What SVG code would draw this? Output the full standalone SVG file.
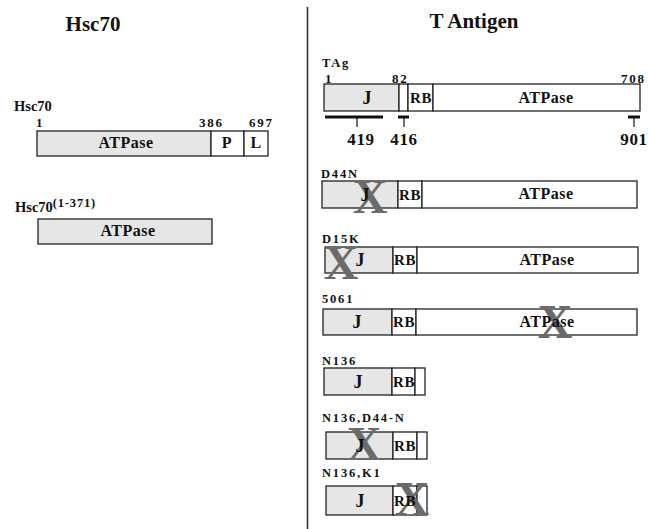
<svg xmlns="http://www.w3.org/2000/svg" width="648" height="529" viewBox="0 0 648 529">
  <style>
    text { font-family: "Liberation Serif", "Times New Roman", serif; font-weight: bold; fill: #111; }
    .title { font-size: 21px; text-anchor: middle; }
    .name { font-size: 14.5px; }
    .tag { font-size: 12.5px; letter-spacing: 1.8px; }
    .num { font-size: 13px; letter-spacing: 1.8px; }
    .pos { font-size: 17px; text-anchor: middle; letter-spacing: 0.6px; }
    .dom { font-size: 16px; text-anchor: middle; letter-spacing: 0.5px; }
    .j { font-size: 18px; text-anchor: middle; }
    .rb { font-size: 15px; text-anchor: middle; letter-spacing: 0.6px; }
    .grey { fill: #e6e6e6; stroke: #222; stroke-width: 1.3; }
    .white { fill: #fff; stroke: #222; stroke-width: 1.3; }
    .mark { font-size: 48px; fill: #6b6b6b; text-anchor: middle; }
    .bar { stroke: #111; stroke-width: 3; }
    .tick { stroke: #111; stroke-width: 1.2; }
  </style>

  <!-- panel divider -->
  <g id="divider">
    <line x1="307.5" y1="7" x2="307.5" y2="529" stroke="#333" stroke-width="1.6"/>
  </g>

  <!-- left panel -->
  <text class="title" x="93" y="31">Hsc70</text>

  <g id="hsc70">
    <text class="name" x="14" y="111">Hsc70</text>
    <text class="num" x="36" y="127">1</text>
    <text class="num" x="199" y="127">386</text>
    <text class="num" x="249" y="127">697</text>
    <rect class="grey" x="37" y="131" width="174" height="25"/>
    <rect class="white" x="211" y="131" width="33" height="25"/>
    <rect class="white" x="244" y="131" width="24" height="25"/>
    <text class="dom" x="126" y="148">ATPase</text>
    <text class="dom" x="227" y="148">P</text>
    <text class="dom" x="256" y="148">L</text>
  </g>

  <g id="hsc70-1-371">
    <text class="name" x="15" y="212">Hsc70<tspan font-size="12.5" letter-spacing="0.8" dy="-5">(1-371)</tspan></text>
    <rect class="grey" x="38" y="219" width="174" height="25"/>
    <text class="dom" x="128" y="236">ATPase</text>
  </g>

  <!-- right panel -->
  <text class="title" x="474" y="28">T Antigen</text>

  <g id="tag">
    <text class="tag" x="322" y="67">TAg</text>
    <text class="num" x="325" y="83">1</text>
    <text class="num" x="392" y="83">82</text>
    <text class="num" x="621" y="83">708</text>
    <rect class="grey" x="324" y="84" width="75" height="27"/>
    <rect class="white" x="399" y="84" width="9" height="27"/>
    <rect class="white" x="408" y="84" width="25" height="27"/>
    <rect class="white" x="433" y="84" width="207" height="27"/>
    <text class="j" x="367" y="104">J</text>
    <text class="rb" x="421" y="103">RB</text>
    <text class="dom" x="546" y="103">ATPase</text>
    <line class="bar" x1="325" y1="117" x2="383" y2="117"/>
    <line class="tick" x1="357" y1="117" x2="357" y2="127"/>
    <text class="pos" x="361" y="145">419</text>
    <line class="bar" x1="398" y1="117" x2="409" y2="117" stroke-width="2.5"/>
    <line class="tick" x1="404" y1="117" x2="404" y2="127"/>
    <text class="pos" x="404" y="145">416</text>
    <line class="bar" x1="628" y1="117" x2="640" y2="117" stroke-width="2.5"/>
    <line class="tick" x1="634" y1="117" x2="634" y2="127"/>
    <text class="pos" x="634" y="145">901</text>
  </g>

  <g id="d44n">
    <text class="tag" x="321" y="178">D44N</text>
    <rect class="grey" x="322" y="181" width="76" height="27"/>
    <rect class="white" x="398" y="181" width="24" height="27"/>
    <rect class="white" x="422" y="181" width="215" height="27"/>
    <text class="mark" x="370" y="213">X</text>
    <text class="j" x="365" y="201">J</text>
    <text class="rb" x="410" y="200">RB</text>
    <text class="dom" x="546" y="199">ATPase</text>
  </g>

  <g id="d15k">
    <text class="tag" x="322" y="243">D15K</text>
    <rect class="grey" x="325" y="247" width="68" height="26"/>
    <rect class="white" x="393" y="247" width="24" height="26"/>
    <rect class="white" x="417" y="247" width="221" height="26"/>
    <text class="mark" x="341" y="279">X</text>
    <text class="j" x="360" y="266">J</text>
    <text class="rb" x="405" y="265">RB</text>
    <text class="dom" x="547" y="265">ATPase</text>
  </g>

  <g id="m5061">
    <text class="tag" x="322" y="303">5061</text>
    <rect class="grey" x="323" y="309" width="69" height="26"/>
    <rect class="white" x="392" y="309" width="24" height="26"/>
    <rect class="white" x="416" y="309" width="221" height="26"/>
    <text class="mark" x="555" y="338">X</text>
    <text class="j" x="357" y="328">J</text>
    <text class="rb" x="404" y="327">RB</text>
    <text class="dom" x="547" y="327">ATPase</text>
  </g>

  <g id="n136">
    <text class="tag" x="322" y="365">N136</text>
    <rect class="grey" x="324" y="368" width="68" height="27"/>
    <rect class="white" x="392" y="368" width="23" height="27"/>
    <rect class="white" x="415" y="368" width="10" height="27"/>
    <text class="j" x="358" y="388">J</text>
    <text class="rb" x="404" y="387">RB</text>
  </g>

  <g id="n136-d44n">
    <text class="tag" x="322" y="422">N136,D44-N</text>
    <rect class="grey" x="326" y="432" width="67" height="27"/>
    <rect class="white" x="393" y="432" width="24" height="27"/>
    <rect class="white" x="417" y="432" width="10" height="27"/>
    <text class="mark" x="364" y="460">X</text>
    <text class="j" x="360" y="452">J</text>
    <text class="rb" x="405" y="451">RB</text>
  </g>

  <g id="n136-k1">
    <text class="tag" x="322" y="477">N136,K1</text>
    <rect class="grey" x="326" y="486" width="67" height="29"/>
    <rect class="white" x="393" y="486" width="24" height="29"/>
    <rect class="white" x="417" y="486" width="10" height="29"/>
    <text class="mark" x="412" y="515">X</text>
    <text class="j" x="360" y="507">J</text>
    <text class="rb" x="405" y="506">RB</text>
  </g>
</svg>
